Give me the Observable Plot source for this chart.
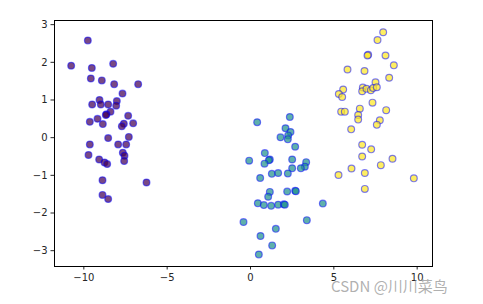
<!DOCTYPE html>
<html>
<head>
<meta charset="utf-8">
<script src="https://cdn.jsdelivr.net/npm/d3@7"></script>
<script src="https://cdn.jsdelivr.net/npm/@observablehq/plot@0.6"></script>
<style>
  html, body { margin: 0; padding: 0; background: #fff; }
  #wrap { position: relative; width: 483px; height: 304px; }
  #mark { position: absolute; left: 331px; top: 275px; font-family: "Noto Sans CJK SC", "DejaVu Sans", sans-serif; font-size: 15px; color: rgba(150,150,150,0.75); white-space: nowrap; }
</style>
</head>
<body>
<div id="wrap"><div id="chart"></div><div id="mark">CSDN @川川菜鸟</div></div>
<script>
const purpleX = [-9.76,-10.76,-9.52,-8.24,-9.58,-8.92,-8.18,-6.74,-7.68,-9.06,-8.02,-9.5,-8.98,-8.54,-8.06,-8.4,-8.64,-8.68,-7.34,-9.18,-9.64,-8.86,-7.6,-7.04,-7.72,-7.3,-8.54,-9.64,-7.94,-7.46,-9.72,-9.08,-7.66,-7.56,-7.58,-8.76,-8.6,-8.88,-6.24,-8.88,-8.54];
const purpleY = [2.58,1.91,1.85,1.96,1.57,1.52,1.42,1.42,1.17,1.0,0.97,0.88,0.88,0.88,0.85,0.69,0.62,0.6,0.58,0.5,0.42,0.36,0.37,0.38,0.3,0.02,-0.01,-0.18,-0.18,-0.18,-0.46,-0.58,-0.4,-0.48,-0.62,-0.66,-0.7,-1.13,-1.19,-1.52,-1.63];
const tealX = [0.4,2.36,2.1,2.4,2.26,2.24,1.8,2.68,0.86,-0.08,1.16,1.1,0.84,2.5,3.34,3.26,3.02,2.5,0.58,1.28,1.66,2.24,1.16,1.06,2.2,2.68,2.72,0.44,0.8,1.24,1.66,2.0,2.06,4.34,-0.42,3.38,1.52,0.6,1.3,0.5];
const tealY = [0.41,0.55,0.25,0.15,0.06,-0.04,0.01,-0.24,-0.41,-0.61,-0.58,-0.6,-0.69,-0.58,-0.65,-0.77,-0.81,-0.81,-1.07,-0.96,-0.94,-0.95,-1.44,-1.57,-1.43,-1.41,-1.42,-1.74,-1.79,-1.81,-1.78,-1.77,-1.78,-1.75,-2.24,-2.19,-2.42,-2.61,-2.86,-3.1];
const yellowX = [7.96,7.62,7.06,7.02,8.1,8.6,5.82,6.84,8.32,7.5,5.56,5.3,5.5,6.74,6.7,6.96,7.22,7.36,7.58,7.32,5.44,5.66,6.56,6.46,6.46,8.14,7.76,7.58,6.04,6.7,7.24,6.7,8.52,7.82,6.06,5.28,6.86,6.86,9.8];
const yellowY = [2.8,2.59,2.2,2.18,2.18,1.92,1.81,1.77,1.59,1.47,1.28,1.16,1.08,1.33,1.23,1.3,1.26,1.32,1.34,0.93,0.69,0.69,0.77,0.6,0.48,0.73,0.46,0.34,0.22,-0.19,-0.31,-0.5,-0.56,-0.73,-0.82,-0.99,-0.94,-1.36,-1.08];
const xTicks = [-10, -5, 0, 5, 10];
const yTicks = [-3, -2, -1, 0, 1, 2, 3];
const clusters = ["a", "b", "c"];
const clusterColors = ["#440154", "#21918c", "#fde725"];

const points = [];
purpleX.forEach((x, i) => points.push({x, y: purpleY[i], g: "a"}));
tealX.forEach((x, i) => points.push({x, y: tealY[i], g: "b"}));
yellowX.forEach((x, i) => points.push({x, y: yellowY[i], g: "c"}));

const fmt = d3.format("d");
const chart = Plot.plot({
  width: 483,
  height: 304,
  marginLeft: 54,
  marginRight: 51,
  marginTop: 20,
  marginBottom: 38,
  style: { fontFamily: "DejaVu Sans", fontSize: "10px", color: "#262626", background: "#fff" },
  x: { domain: [-11.76, 10.92], ticks: xTicks, tickFormat: fmt, tickSize: 3.5, tickPadding: 3.5, label: null },
  y: { domain: [-3.42, 3.11], ticks: yTicks, tickFormat: fmt, tickSize: 3.5, tickPadding: 3.5, label: null },
  color: { domain: clusters, range: clusterColors },
  marks: [
    Plot.frame({ stroke: "#000", strokeWidth: 1 }),
    Plot.dot(points, { x: "x", y: "y", fill: "g", fillOpacity: 0.72, stroke: "blue", strokeOpacity: 0.5, strokeWidth: 1.2, r: 3.4 })
  ]
});
document.getElementById("chart").appendChild(chart);
</script>
</body>
</html>
